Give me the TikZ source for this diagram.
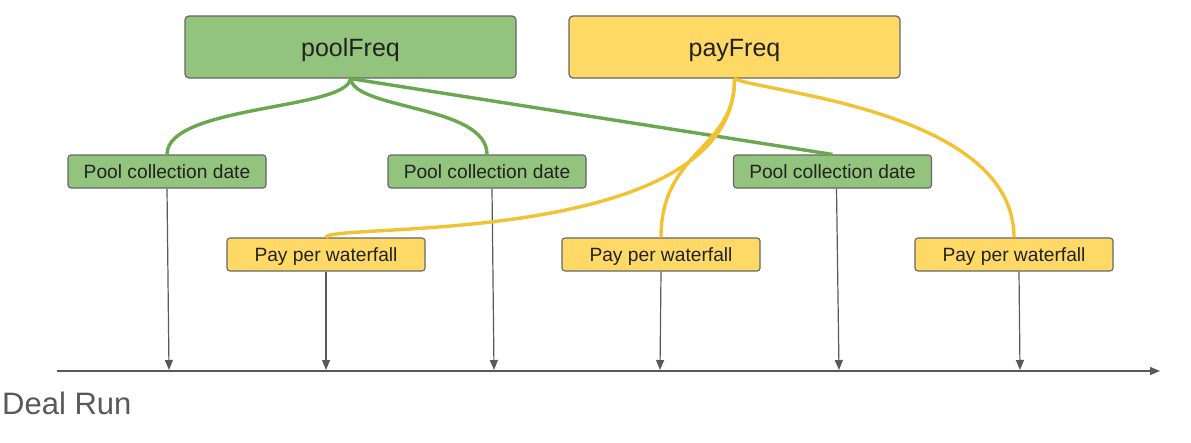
\documentclass[tikz,border=0pt]{standalone}
\usepackage{fontspec}
\setmainfont{Liberation Sans}
\usetikzlibrary{arrows.meta}
\definecolor{gfill}{HTML}{93C47D}
\definecolor{gline}{HTML}{6AA84F}
\definecolor{yfill}{HTML}{FFD966}
\definecolor{yline}{HTML}{F1C232}
\definecolor{bord}{HTML}{666666}
\definecolor{txt}{HTML}{222222}
\definecolor{axis}{HTML}{595959}
\tikzset{
  bigbox/.style={draw=bord, line width=1.2pt, rounded corners=4pt, minimum width=331pt, minimum height=62pt, inner sep=0pt, text height=19.4pt, text depth=0pt, text=txt, font=\fontsize{25}{28}\selectfont},
  smallbox/.style={draw=bord, line width=1.1pt, rounded corners=3pt, minimum width=198pt, minimum height=33pt, inner sep=0pt, text height=13pt, text depth=0pt, text=txt, font=\fontsize{19.2}{22}\selectfont},
  gcon/.style={draw=gline, line width=3.4pt},
  ycon/.style={draw=yline, line width=3.4pt},
  tick/.style={draw=axis, line width=1.2pt, -{Triangle[length=10pt,width=8pt]}},
}
\begin{document}
\begin{tikzpicture}[x=1pt,y=-1pt]
\useasboundingbox (0,0) rectangle (1191,442);
% top boxes
\node[bigbox, fill=gfill] (pool) at (350.5,47) {poolFreq};
\node[bigbox, fill=yfill] (pay) at (734.5,47) {payFreq};
% small boxes
\node[smallbox, fill=gfill] (p1) at (167,171.5) {Pool collection date};
\node[smallbox, fill=gfill] (p2) at (487,171.5) {Pool collection date};
\node[smallbox, fill=gfill] (p3) at (832.5,171.5) {Pool collection date};
\node[smallbox, fill=yfill] (w1) at (326,254.5) {Pay per waterfall};
\node[smallbox, fill=yfill] (w2) at (661,254.5) {Pay per waterfall};
\node[smallbox, fill=yfill] (w3) at (1014,254.5) {Pay per waterfall};
% axis
\coordinate (axL) at (57,371);
\coordinate (axR) at (1160,371);
\draw[draw=axis, line width=1.3pt, -{Triangle[length=10pt,width=8pt]}] (axL) -- (axR);
\node[anchor=base west, text=axis, font=\fontsize{31}{34}\selectfont, inner sep=0pt] (deal) at (2,414) {Deal Run};
% tick targets
\coordinate (t1) at (169,370);
\coordinate (t2) at (494,370);
\coordinate (t3) at (839,370);
\coordinate (u1) at (326,370);
\coordinate (u2) at (660,370);
\coordinate (u3) at (1020,370);
\draw[tick] (p1.south) -- (t1);
\draw[tick] ([xshift=5pt]p2.south) -- (t2);
\draw[tick] ([xshift=4pt]p3.south) -- (t3);
\draw[tick] (w1.south) -- (u1);
\draw[tick] (w2.south) -- (u2);
\draw[tick] ([xshift=5pt]w3.south) -- (u3);
% green connectors
\draw[gcon] (pool.south) .. controls (347,110) and (167,105) .. (p1.north);
\draw[gcon] (pool.south) .. controls (355,110) and (487,105) .. (p2.north);
\draw[gcon] (pool.south) -- (p3.north);
% yellow connectors
\draw[ycon] (pay.south) .. controls (735,250) and (326,222) .. (w1.north);
\draw[ycon] (pay.south) .. controls (735,150) and (661,150) .. (w2.north);
\draw[ycon] (pay.south) .. controls (760,92) and (1014,110) .. (w3.north);
\end{tikzpicture}
\end{document}
